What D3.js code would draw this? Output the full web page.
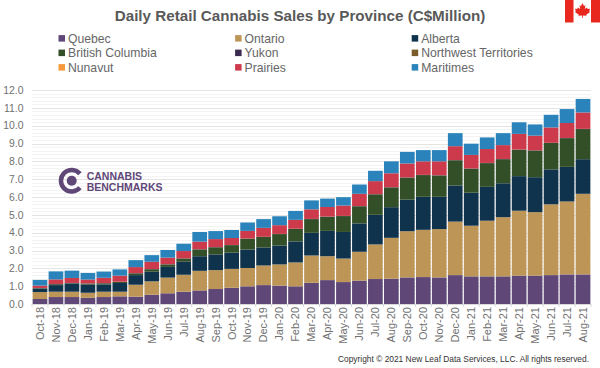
<!DOCTYPE html>
<html>
<head>
<meta charset="utf-8">
<script src="https://cdn.jsdelivr.net/npm/d3@7"></script>
<style>
body { margin: 0; background: #fff; }
text { font-family: "Liberation Sans", Arial, sans-serif; }
</style>
</head>
<body>
<div id="chart"></div>
<script>
var months = ["Oct-18","Nov-18","Dec-18","Jan-19","Feb-19","Mar-19","Apr-19","May-19","Jun-19","Jul-19","Aug-19","Sep-19",
  "Oct-19","Nov-19","Dec-19","Jan-20","Feb-20","Mar-20","Apr-20","May-20","Jun-20","Jul-20","Aug-20","Sep-20",
  "Oct-20","Nov-20","Dec-20","Jan-21","Feb-21","Mar-21","Apr-21","May-21","Jun-21","Jul-21","Aug-21"];
var provinces = ["Quebec","Ontario","Alberta","British Columbia","Yukon","Northwest Territories","Nunavut","Prairies","Maritimes"];
var colors = ["#5f4778","#bd9657","#10334d","#324f28","#3b2a50","#7a5c2a","#f79a3b","#cc3a4c","#2a84bb"];

var quebec = [.28,.39,.39,.35,.39,.43,.41,.52,.60,.69,.76,.84,.91,.99,1.06,1.03,.99,1.19,1.34,1.23,1.31,1.40,1.42,1.49,1.51,1.49,1.62,1.55,1.55,1.55,1.59,1.59,1.62,1.66,1.66];
var ontario = [.39,.30,.30,.28,.30,.26,.67,.75,.88,.95,1.10,1.06,1.06,1.03,1.10,1.19,1.34,1.53,1.34,1.32,1.62,1.94,2.29,2.59,2.65,2.71,3.00,2.84,3.12,3.32,3.64,3.56,3.97,4.09,4.52];
var alberta = [.19,.37,.45,.45,.41,.49,.54,.54,.60,.73,.82,.88,.91,1.03,1.01,1.06,1.18,1.27,1.42,1.49,1.59,1.66,1.72,1.77,1.85,1.81,2.03,1.85,1.90,1.90,1.94,1.96,1.96,1.94,1.94];
var britishColumbia = [.03,.05,.03,.06,.06,.06,.10,.14,.14,.18,.38,.40,.42,.61,.59,.64,.70,.77,.79,.89,.96,1.15,1.11,1.24,1.22,1.20,1.41,1.35,1.33,1.35,1.48,1.50,1.48,1.61,1.69];
var yukon = [.01,.01,.01,.01,.01,.01,.01,.01,.01,.01,.01,.01,.01,.01,.01,.01,.01,.01,.01,.01,.01,.01,.01,.01,.01,.01,.01,.01,.01,.01,.01,.01,.01,.01,.01];
var northwest = [0,0,0,0,0,0,0,0,0,0,0,0,0,0,0,0,0,0,0,0,0,0,0,0,0,0,0,0,0,0,0,0,0,0,0];
var nunavut = [0,0,0,0,0,0,0,0,0,0,0,0,0,0,0,0,0,0,0,0,0,0,0,0,0,0,0,0,0,0,0,0,0,0,0];
var prairies = [.13,.26,.28,.22,.30,.34,.34,.41,.37,.41,.43,.45,.39,.43,.50,.49,.50,.54,.54,.58,.69,.73,.78,.78,.76,.78,.78,.76,.78,.78,.88,.82,.86,.84,.92];
var maritimes = [.32,.45,.41,.37,.35,.35,.39,.37,.43,.41,.54,.45,.45,.47,.49,.50,.50,.50,.47,.47,.52,.58,.67,.65,.63,.63,.73,.63,.65,.67,.65,.63,.71,.78,.76];
var yTicks = [0,1,2,3,4,5,6,7,8,9,10,11,12];
var minorTicks = d3.range(0, 12.01, 0.2);

var seriesValues = [quebec, ontario, alberta, britishColumbia, yukon, northwest, nunavut, prairies, maritimes];

var width = 600, height = 368;
var margin = {top: 90, right: 9, bottom: 64, left: 32};

var svg = d3.select("#chart").append("svg")
  .attr("width", width)
  .attr("height", height)
  .style("display", "block");

var x = d3.scaleBand()
  .domain(months)
  .range([margin.left, width - margin.right])
  .paddingInner(0.08)
  .paddingOuter(0.04);

var y = d3.scaleLinear()
  .domain([0, 12])
  .range([height - margin.bottom, margin.top]);

// gridlines, faint every 0.2 and stronger on the whole numbers
svg.append("g").selectAll("line")
  .data(minorTicks)
  .enter().append("line")
  .attr("x1", margin.left)
  .attr("x2", width - margin.right)
  .attr("y1", function(d) { return Math.round(y(d)) + 0.5; })
  .attr("y2", function(d) { return Math.round(y(d)) + 0.5; })
  .attr("stroke", "#f3f3f3");

svg.append("g").selectAll("line")
  .data(yTicks)
  .enter().append("line")
  .attr("x1", margin.left)
  .attr("x2", width - margin.right)
  .attr("y1", function(d) { return Math.round(y(d)) + 0.5; })
  .attr("y2", function(d) { return Math.round(y(d)) + 0.5; })
  .attr("stroke", "#e4e4e4");

// stacked bars
var rows = months.map(function(m, i) {
  var row = {month: m};
  provinces.forEach(function(p, j) { row[p] = seriesValues[j][i]; });
  return row;
});
var stacked = d3.stack().keys(provinces)(rows);

svg.append("g").selectAll("g")
  .data(stacked)
  .enter().append("g")
  .attr("fill", function(d, i) { return colors[i]; })
  .selectAll("rect")
  .data(function(d) { return d; })
  .enter().append("rect")
  .attr("x", function(d) { return x(d.data.month); })
  .attr("width", x.bandwidth())
  .attr("y", function(d) { return y(d[1]); })
  .attr("height", function(d) { return y(d[0]) - y(d[1]); });

// axes
var yAxis = svg.append("g")
  .attr("transform", "translate(" + margin.left + ",0)")
  .call(d3.axisLeft(y).tickValues(yTicks).tickSize(0).tickPadding(8.5).tickFormat(d3.format(".1f")));
yAxis.select(".domain").remove();
yAxis.selectAll("text").attr("fill", "#707070").style("font-size", "10.4px");

var xAxis = svg.append("g")
  .attr("transform", "translate(0," + (height - margin.bottom) + ")")
  .call(d3.axisBottom(x).tickSize(0).tickPadding(3));
xAxis.select(".domain").attr("stroke", "#d9d9d9");
xAxis.selectAll("text")
  .attr("fill", "#707070")
  .style("font-size", "11px")
  .attr("text-anchor", "end")
  .attr("transform", "rotate(-90)")
  .attr("x", -3)
  .attr("y", 0)
  .attr("dy", "0.35em");

// tick marks sit between the bars, not under them
xAxis.selectAll(".tick").append("line")
  .attr("x1", -x.step() / 2)
  .attr("x2", -x.step() / 2)
  .attr("y2", 3)
  .attr("stroke", "#d9d9d9");
xAxis.append("line")
  .attr("x1", width - margin.right)
  .attr("x2", width - margin.right)
  .attr("y2", 3)
  .attr("stroke", "#d9d9d9");

// title
svg.append("text")
  .attr("x", 300)
  .attr("y", 21)
  .attr("text-anchor", "middle")
  .attr("fill", "#595959")
  .style("font-size", "15.2px")
  .style("font-weight", "bold")
  .text("Daily Retail Cannabis Sales by Province (C$Million)");

// legend, three columns
var legend = svg.append("g").selectAll("g")
  .data(provinces)
  .enter().append("g")
  .attr("transform", function(d, i) {
    return "translate(" + (58.5 + (i % 3) * 176.6) + "," + (38.3 + Math.floor(i / 3) * 14.5) + ")";
  });

legend.append("rect")
  .attr("y", -3.2)
  .attr("width", 6.5)
  .attr("height", 6.5)
  .attr("fill", function(d, i) { return colors[i]; });

legend.append("text")
  .attr("x", 9.5)
  .attr("dy", "0.35em")
  .attr("fill", "#666")
  .style("font-size", "12.2px")
  .text(function(d) { return d; });

// logo
var logo = svg.append("g").attr("transform", "translate(71.7,180.7)");
logo.append("path")
  .attr("d", d3.arc().innerRadius(8.5).outerRadius(13).startAngle(Math.PI / 2 + 0.7).endAngle(Math.PI / 2 + 2 * Math.PI - 0.7)())
  .attr("fill", "#5f4778");
logo.append("circle").attr("r", 5).attr("fill", "#5f4778");
logo.append("text")
  .attr("x", 15).attr("y", -0.7)
  .attr("fill", "#5f4778")
  .style("font-size", "10.5px").style("font-weight", "bold")
  .text("CANNABIS");
logo.append("text")
  .attr("x", 15).attr("y", 10)
  .attr("fill", "#5f4778")
  .style("font-size", "10.5px").style("font-weight", "bold")
  .text("BENCHMARKS");

// flag
var flag = svg.append("g").attr("transform", "translate(565,0)");
flag.append("rect").attr("width", 8.5).attr("height", 22.5).attr("fill", "#e8281e");
flag.append("rect").attr("x", 26).attr("width", 9).attr("height", 22.5).attr("fill", "#e8281e");
flag.append("path")
  .attr("transform", "translate(4,1.5) scale(0.75)")
  .attr("d", "M18 2L20 6L22 5L21 10L24 8L25 10L28 9.5L27 13L28 14L23 17.5L23.5 19L18.5 18.5L18.5 22L17.5 22L17.5 18.5L12.5 19L13 17.5L8 14L9 13L8 9.5L11 10L12 8L15 10L14 5L16 6Z")
  .attr("fill", "#e8281e");

// copyright
svg.append("text")
  .attr("x", 589)
  .attr("y", 362)
  .attr("text-anchor", "end")
  .attr("fill", "#333")
  .style("font-size", "8.4px")
  .text("Copyright \u00a9 2021 New Leaf Data Services, LLC. All rights reserved.");
</script>
</body>
</html>
